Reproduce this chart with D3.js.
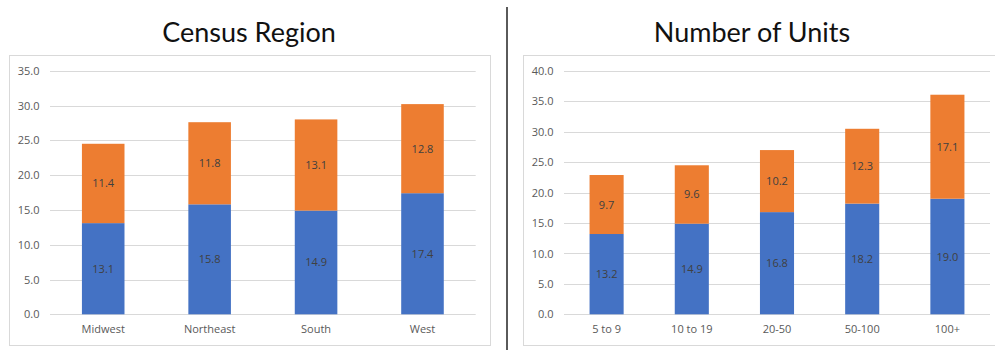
<!DOCTYPE html>
<html>
<head>
<meta charset="utf-8">
<script src="https://cdn.jsdelivr.net/npm/d3@7"></script>
<style>
  html, body { margin: 0; padding: 0; background: #fff; }
  svg { display: block; }
</style>
</head>
<body>
<svg id="chart" width="995" height="350"></svg>
<script>
// Census region panel
const regionCategories = ["Midwest", "Northeast", "South", "West"];
const regionLower = [13.1, 15.8, 14.9, 17.4];
const regionUpper = [11.4, 11.8, 13.1, 12.8];
const regionTicks = [0, 5, 10, 15, 20, 25, 30, 35];

// Number of units panel
const unitCategories = ["5 to 9", "10 to 19", "20-50", "50-100", "100+"];
const unitLower = [13.2, 14.9, 16.8, 18.2, 19.0];
const unitUpper = [9.7, 9.6, 10.2, 12.3, 17.1];
const unitTicks = [0, 5, 10, 15, 20, 25, 30, 35, 40];

const titles = ["Census Region", "Number of Units"];
const seriesColors = ["#4472C4", "#ED7D31"];

const svg = d3.select("#chart");
const fontUI = "'Open Sans', 'Noto Sans', sans-serif";

function drawPanel(opt) {
  const g = svg.append("g");

  // outer frame
  g.append("rect")
    .attr("x", opt.box[0] + 0.5).attr("y", opt.box[1] + 0.5)
    .attr("width", opt.box[2] - opt.box[0]).attr("height", opt.box[3] - opt.box[1])
    .attr("fill", "none").attr("stroke", "#d9d9d9").attr("stroke-width", 1);

  // title
  g.append("text")
    .attr("x", opt.titleX).attr("y", 42)
    .attr("text-anchor", "middle")
    .attr("font-family", "Lato, 'Open Sans', sans-serif")
    .attr("font-weight", 400)
    .attr("font-size", 27)
    .attr("fill", "#111")
    .text(opt.title);

  const x = d3.scaleBand().domain(opt.categories)
    .range(opt.xRange).paddingInner(0.6).paddingOuter(0.3);
  const y = d3.scaleLinear().domain([0, d3.max(opt.ticks)]).range(opt.yRange);

  // gridlines
  g.append("g").selectAll("line").data(opt.ticks).join("line")
    .attr("x1", opt.xRange[0]).attr("x2", opt.xRange[1])
    .attr("y1", d => Math.round(y(d)) + 0.5).attr("y2", d => Math.round(y(d)) + 0.5)
    .attr("stroke", "#d9d9d9").attr("stroke-width", 1);

  // value axis labels
  const yAxis = d3.axisLeft(y).tickValues(opt.ticks).tickFormat(d3.format(".1f"))
    .tickSize(0).tickPadding(0);
  const ya = g.append("g").attr("transform", `translate(${opt.tickRight},0)`).call(yAxis);
  ya.select(".domain").remove();
  ya.selectAll("text").attr("font-family", fontUI).attr("font-size", 11).attr("fill", "#595959");

  // category axis labels
  const xAxis = d3.axisBottom(x).tickSize(0).tickPadding(0);
  const xa = g.append("g").attr("transform", `translate(0,${opt.yRange[0] + 11})`).call(xAxis);
  xa.select(".domain").remove();
  xa.selectAll("text").attr("font-family", fontUI).attr("font-size", 11).attr("fill", "#595959");

  // stacked series
  const rows = opt.categories.map((c, i) => ({ cat: c, lower: opt.lower[i], upper: opt.upper[i] }));
  const stacked = d3.stack().keys(["lower", "upper"])(rows);

  stacked.forEach((layer, li) => {
    const lg = g.append("g");
    lg.selectAll("rect").data(layer).join("rect")
      .attr("x", d => x(d.data.cat))
      .attr("width", x.bandwidth())
      .attr("y", d => y(d[1]))
      .attr("height", d => y(d[0]) - y(d[1]))
      .attr("fill", seriesColors[li]);
    lg.selectAll("text").data(layer).join("text")
      .attr("x", d => x(d.data.cat) + x.bandwidth() / 2)
      .attr("y", d => (y(d[0]) + y(d[1])) / 2 + 4)
      .attr("text-anchor", "middle")
      .attr("font-family", fontUI).attr("font-size", 11)
      .attr("fill", "#404040")
      .text(d => d3.format(".1f")(d.data[layer.key]));
  });
}

drawPanel({
  title: titles[0], titleX: 249,
  box: [9, 55, 490, 345],
  categories: regionCategories, lower: regionLower, upper: regionUpper, ticks: regionTicks,
  xRange: [50, 475.7], yRange: [314.3, 70.7], tickRight: 39.5
});

drawPanel({
  title: titles[1], titleX: 752,
  box: [523, 55, 1000, 345],
  categories: unitCategories, lower: unitLower, upper: unitUpper, ticks: unitTicks,
  xRange: [564, 990], yRange: [314.3, 71], tickRight: 553.5
});

// divider between panels
svg.append("line")
  .attr("x1", 507).attr("x2", 507).attr("y1", 7).attr("y2", 350)
  .attr("stroke", "#5a5a5a").attr("stroke-width", 2);
</script>
</body>
</html>
